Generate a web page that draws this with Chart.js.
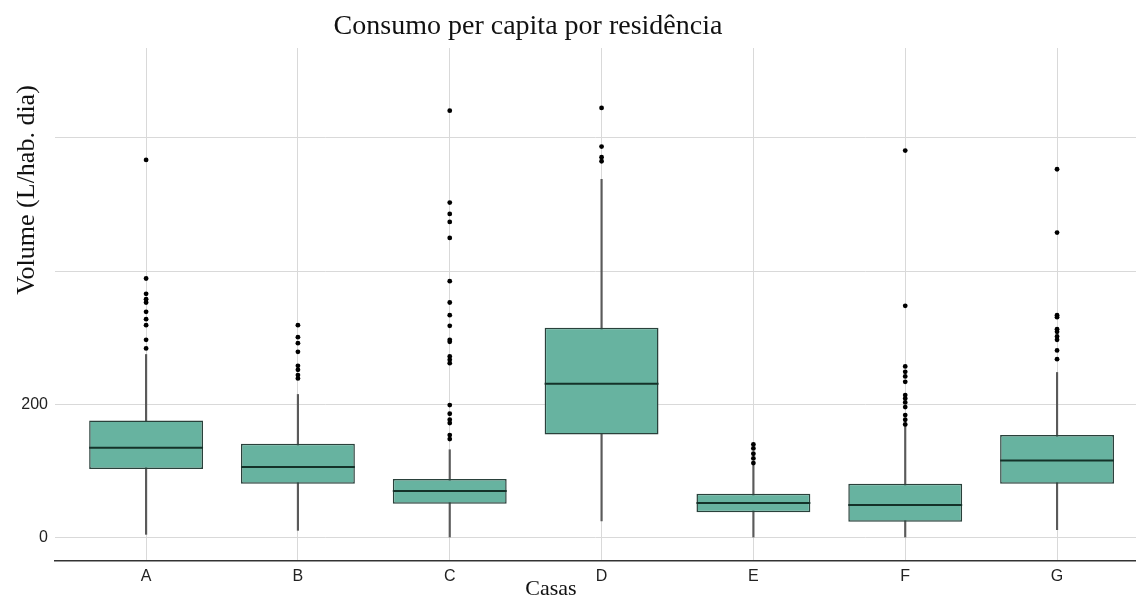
<!DOCTYPE html>
<html>
<head>
<meta charset="utf-8">
<script src="https://cdn.jsdelivr.net/npm/chart.js@4/dist/chart.umd.min.js"></script>
<style>
  body { margin: 0; background: #fff; }
  canvas { display: block; }
</style>
</head>
<body>
<canvas id="boxChart" width="1136" height="602"></canvas>
<script>
// Box plot values per house (L/hab. dia)
const casas = ['A', 'B', 'C', 'D', 'E', 'F', 'G'];
const whiskerLow = [5, 11, 1, 25, 1, 1, 12];
const q1 = [103, 81, 51, 155, 38, 24, 81];
const median = [135, 106, 70, 231, 52, 49, 116];
const q3 = [176, 141, 88, 315, 66, 81, 154];
const whiskerHigh = [275, 215, 132, 538, 111, 169, 248];

const outliersA = [284, 297, 319, 328, 339, 353, 358, 366, 389, 567];
const outliersB = [239, 244, 252, 258, 279, 292, 301, 319];
const outliersC = [148, 154, 172, 177, 186, 199, 262, 267, 272, 294, 297, 318, 334, 353, 385, 450, 474, 486, 503, 641];
const outliersD = [565, 571, 587, 645];
const outliersE = [112, 119, 126, 134, 140];
const outliersF = [170, 177, 184, 196, 203, 209, 214, 234, 242, 249, 257, 348, 581];
const outliersG = [268, 281, 297, 302, 309, 313, 331, 334, 458, 553];

const yTicks = [0, 200, 400, 600];
const yLabels = [0, 200];

const allOutliers = [outliersA, outliersB, outliersC, outliersD, outliersE, outliersF, outliersG];
const outlierPoints = [];
allOutliers.forEach((list, i) => {
    list.forEach(v => outlierPoints.push({ x: i, y: v }));
});

// Median lines and text labels drawn over the boxes
const boxExtras = {
    id: 'boxExtras',
    afterDatasetsDraw(chart) {
        const ctx = chart.ctx;
        const yScale = chart.scales.y;
        const boxes = chart.getDatasetMeta(1).data;
        ctx.save();
        ctx.strokeStyle = '#143229';
        ctx.lineWidth = 2;
        boxes.forEach((bar, i) => {
            const y = yScale.getPixelForValue(median[i]);
            ctx.beginPath();
            ctx.moveTo(bar.x - bar.width / 2, y);
            ctx.lineTo(bar.x + bar.width / 2, y);
            ctx.stroke();
        });
        ctx.restore();
    },
    afterDraw(chart) {
        const ctx = chart.ctx;
        ctx.save();
        ctx.fillStyle = '#111';
        ctx.textAlign = 'center';
        ctx.textBaseline = 'alphabetic';
        ctx.font = '28px "Liberation Serif", "Times New Roman", serif';
        ctx.fillText('Consumo per capita por residência', 528, 34);
        ctx.font = '22px "Liberation Serif", "Times New Roman", serif';
        ctx.fillText('Casas', 551, 595);
        ctx.translate(34, 190);
        ctx.rotate(-Math.PI / 2);
        ctx.font = '26px "Liberation Serif", "Times New Roman", serif';
        ctx.fillText('Volume (L/hab. dia)', 0, 0);
        ctx.restore();
    }
};

const ctx = document.getElementById('boxChart').getContext('2d');
new Chart(ctx, {
    type: 'bar',
    data: {
        datasets: [
            {
                label: 'whiskers',
                data: casas.map((c, i) => ({ x: i, y: [whiskerLow[i], whiskerHigh[i]] })),
                backgroundColor: '#5a5a5a',
                barThickness: 1.5,
                grouped: false,
                order: 3
            },
            {
                label: 'boxes',
                data: casas.map((c, i) => ({ x: i, y: [q1[i], q3[i]] })),
                backgroundColor: '#67b3a0',
                borderColor: '#2a413b',
                borderWidth: 1.5,
                borderSkipped: false,
                barPercentage: 0.75,
                categoryPercentage: 1,
                grouped: false,
                order: 2
            },
            {
                type: 'scatter',
                label: 'outliers',
                data: outlierPoints,
                backgroundColor: '#000',
                borderWidth: 0,
                pointRadius: 2.4,
                order: 1
            }
        ]
    },
    options: {
        responsive: false,
        animation: false,
        layout: { autoPadding: false, padding: { top: 48, left: 0, right: 0, bottom: 0 } },
        plugins: {
            legend: { display: false },
            tooltip: { enabled: false }
        },
        scales: {
            x: {
                type: 'linear',
                min: -0.6,
                max: 6.52,
                offset: false,
                afterBuildTicks: scale => { scale.ticks = casas.map((c, i) => ({ value: i })); },
                afterFit: scale => { scale.height = 41; scale.paddingRight = 0; },
                ticks: {
                    callback: v => casas[v],
                    color: '#222',
                    font: { family: '"Liberation Sans", Arial, sans-serif', size: 16 },
                    padding: 6,
                    maxRotation: 0
                },
                grid: { color: '#d9d9d9', lineWidth: 1, drawTicks: false, offset: false },
                border: { display: true, color: '#333', width: 1.5 }
            },
            y: {
                min: -35,
                max: 735,
                afterBuildTicks: scale => { scale.ticks = yTicks.map(v => ({ value: v })); },
                afterFit: scale => { scale.width = 55; },
                ticks: {
                    callback: v => (yLabels.includes(v) ? String(v) : ''),
                    color: '#222',
                    font: { family: '"Liberation Sans", Arial, sans-serif', size: 16 },
                    padding: 7
                },
                grid: { color: '#d9d9d9', lineWidth: 1, drawTicks: false },
                border: { display: false }
            }
        }
    },
    plugins: [boxExtras]
});
</script>
</body>
</html>
